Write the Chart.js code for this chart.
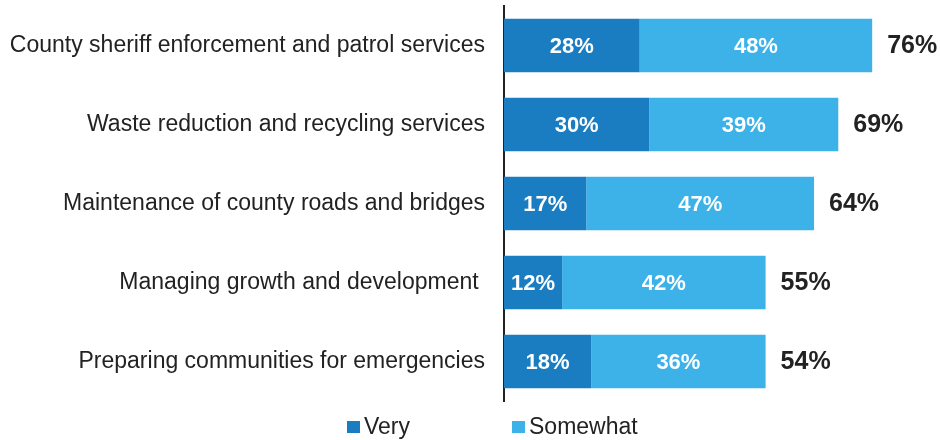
<!DOCTYPE html>
<html><head><meta charset="utf-8">
<script src="https://cdn.jsdelivr.net/npm/chart.js@4"></script>
<style>html,body{margin:0;padding:0;background:#fff}#wrap{width:940px;height:440px}</style>
</head><body><div id="wrap"><canvas id="c" width="940" height="440"></canvas></div>
<script>
const categories = [
  "County sheriff enforcement and patrol services",
  "Waste reduction and recycling services",
  "Maintenance of county roads and bridges",
  "Managing growth and development ",
  "Preparing communities for emergencies"
];
const seriesNames = ["Very", "Somewhat"];
const veryValues = [28, 30, 17, 12, 18];
const somewhatValues = [48, 39, 47, 42, 36];
const totalLabels = ["76%", "69%", "64%", "55%", "54%"];

const FONT = "'Liberation Sans', Arial, sans-serif";
const colors = ["#1a7cc1", "#3cb2e9"];

const labelsPlugin = {
  id: 'labelsPlugin',
  afterDatasetsDraw(chart) {
    const ctx = chart.ctx;
    ctx.save();
    ctx.textBaseline = 'middle';
    chart.data.datasets.forEach((ds, di) => {
      const meta = chart.getDatasetMeta(di);
      meta.data.forEach((el, i) => {
        ctx.font = "bold 22px " + FONT;
        ctx.fillStyle = '#ffffff';
        ctx.textAlign = 'center';
        ctx.fillText(ds.data[i] + '%', (el.x + el.base) / 2, el.y + 1);
      });
    });
    const last = chart.getDatasetMeta(chart.data.datasets.length - 1);
    last.data.forEach((el, i) => {
      ctx.font = "bold 25px " + FONT;
      ctx.fillStyle = '#222222';
      ctx.textAlign = 'left';
      ctx.fillText(totalLabels[i], el.x + 15, el.y + 1);
    });
    ctx.restore();
  },
  afterDraw(chart) {
    const ctx = chart.ctx;
    ctx.save();
    ctx.font = "23px " + FONT;
    ctx.textBaseline = 'middle';
    ctx.textAlign = 'left';
    const starts = [347, 512];
    chart.data.datasets.forEach((ds, di) => {
      const x = starts[di];
      const y = 427;
      ctx.fillStyle = ds.backgroundColor;
      ctx.fillRect(x, y - 6, 13, 12);
      ctx.fillStyle = '#222222';
      ctx.fillText(ds.label, x + 17, y + 1);
    });
    ctx.restore();
  }
};

new Chart(document.getElementById('c'), {
  type: 'bar',
  data: {
    labels: categories,
    datasets: [
      { label: seriesNames[0], data: veryValues, backgroundColor: colors[0] },
      { label: seriesNames[1], data: somewhatValues, backgroundColor: colors[1] }
    ]
  },
  options: {
    indexAxis: 'y',
    responsive: false,
    animation: false,
    events: [],
    layout: { padding: { top: 6, bottom: 39, left: 0, right: 0 } },
    datasets: { bar: { categoryPercentage: 1, barPercentage: 0.68 } },
    plugins: { legend: { display: false }, tooltip: { enabled: false } },
    scales: {
      x: { stacked: true, min: 0, max: 90, display: false },
      y: {
        stacked: true,
        grid: { display: false, drawTicks: false },
        border: { display: true, color: '#222', width: 2 },
        ticks: { color: '#222', font: { family: FONT, size: 23 }, padding: 19 },
        afterFit(scale) { scale.width = 504; scale.paddingTop = 0; scale.paddingBottom = 0; }
      }
    }
  },
  plugins: [labelsPlugin]
});
</script></body></html>
